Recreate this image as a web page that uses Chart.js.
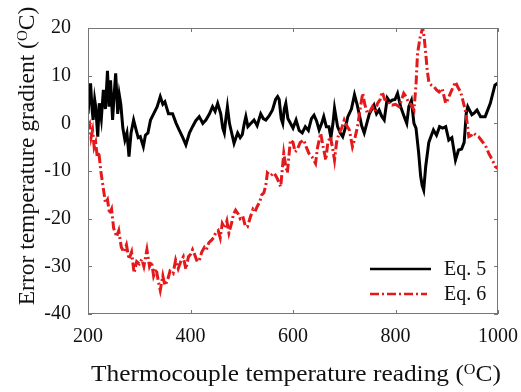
<!DOCTYPE html>
<html>
<head>
<meta charset="utf-8">
<script src="https://cdn.jsdelivr.net/npm/chart.js@4.4.0/dist/chart.umd.min.js"></script>
<style>
  html, body { margin: 0; padding: 0; background: #fff; }
  #wrap { position: relative; width: 521px; height: 392px; overflow: hidden; }
  #c { position: absolute; left: 0; top: 0; }
  .ttl { position: absolute; font-family: "Liberation Serif", "Times New Roman", serif; font-size: 23.5px;
         color: #111; white-space: nowrap; text-align: center; height: 28px; line-height: 28px; }
  .ttl sup { font-size: 15px; line-height: 0; vertical-align: 7px; }
  #xt { left: 88px; width: 416px; top: 359px; transform: scaleX(1.08); }
  #yt { left: -134px; width: 320px; top: 142px; transform: rotate(-90deg); }
</style>
</head>
<body>
<div id="wrap">
  <canvas id="c" width="521" height="392"></canvas>
  <div class="ttl" id="xt">Thermocouple temperature reading (<sup>O</sup>C)</div>
  <div class="ttl" id="yt">Error temperature gradient (<sup>O</sup>C)</div>
</div>
<script>
// Eq. 5 (black, solid)
var eq5T = [200,203,205,208,210,213,215,219,222,226,230,234,238,241,244,248,251,254,258,261,264,268,272,276,280,284,289,294,298,302,308,312,317,322,328,335,341,346,350,357,365,372,378,385,391,398,404,410,417,424,430,437,443,448,453,459,463,466,469,472,476,479,485,492,497,501,505,508,512,518,524,530,537,542,547,553,560,566,570,573,577,580,583,586,590,595,600,606,612,618,624,630,636,641,646,651,656,660,665,670,674,678,681,687,692,697,702,707,714,720,725,729,734,739,744,749,754,758,763,768,773,778,784,789,794,799,804,810,817,822,826,831,836,840,845,849,852,855,859,865,869,874,880,886,892,898,904,910,917,923,929,934,938,941,949,954,959,966,975,985,994,1000];
var eq5V = [2,6,8.4,3,0.7,5,3.5,-2.8,4.2,1,7,3,11,3.5,9,0.7,6,10.5,2,6,4,-1,-3.5,-2,-7,-2,0.7,-1.4,-3,-2.8,-4.9,-2.5,-2,0.7,2,3.5,5.6,4,4.5,2,2,0,-1.4,-3,-4.5,-2,-0.7,0.5,1.4,0,0.7,2,3.5,2.5,4.2,2,-1,-2,1,3.5,0,-1.4,-4.2,-2,-3,-2.4,0,1.4,-0.7,0,0.7,-0.5,2,1,0.7,1.5,2.8,5,5.6,5,1,0,3,4.2,1,0,-1,0.7,-1.5,-2,-0.7,-1.5,1,1.7,0.5,-1.4,0,1.4,-0.7,-0.7,-3,0,3.2,-0.7,-2,-2.8,-1,1.4,3,6,4,2,-0.5,-2,0,2,3,3.8,2,2.8,1.5,0.7,5.3,4.5,4.9,5,6.3,3.5,1.4,0,3.5,4.8,0,-1,-6,-11,-13,-14,-9,-4,-2.8,-1.4,-2.5,-0.7,-1,-0.7,-3.5,-3,-7.7,-5.6,-5.4,-4,2,3.5,1.8,2.2,2.8,1.4,1.4,4.2,8,8.5];

// Eq. 6 (red, dash-dot)
var eq6T = [200,203,206,209,212,215,218,221,225,229,234,238,242,246,250,256,260,265,270,275,280,285,290,295,300,305,309,315,320,324,328,333,337,341,346,350,355,360,366,371,376,381,386,391,396,400,404,408,413,417,422,427,431,436,441,445,449,454,458,462,467,471,475,480,484,488,493,497,502,507,511,517,522,526,530,535,539,543,547,550,556,563,569,576,582,586,589,595,600,604,608,614,621,626,631,637,644,648,654,659,664,668,673,677,681,685,690,695,700,705,710,716,721,726,731,736,740,745,750,755,760,765,770,774,779,784,788,793,800,807,812,816,821,826,830,836,840,843,848,853,856,859,862,865,870,875,880,885,891,898,902,907,912,917,922,927,931,936,940,943,948,952,957,962,967,972,977,982,988,995,1000];
var eq6V = [-0.5,0,-3,-1.5,-5,-4,-7,-6,-10,-13,-16.7,-16,-19,-18,-22,-23.8,-22.5,-26,-27,-25.5,-28.5,-27,-31.4,-29,-29.5,-28.5,-30,-26.5,-30,-29,-32,-30.5,-33,-35,-32,-34,-33,-31,-31.5,-28.7,-30.5,-29,-28,-30.6,-28,-27.5,-26.5,-27.5,-29,-28.8,-27,-26,-26.5,-25,-24.5,-24,-23,-22.5,-24,-21,-22,-20.5,-23,-21,-19,-18.2,-19,-20,-19.5,-21.6,-21.7,-19.6,-18,-18.5,-17.5,-16.5,-15,-14.6,-13,-10.4,-11,-10.4,-11.5,-13.3,-6.3,-9,-10.4,-3.5,-4,-6,-5.6,-4,-3.5,-5,-6.3,-7,-8.4,-5,-2.1,-5,-7.7,-4,-2.8,-5,-7.7,-4,-2,-1,0.7,-0.5,-1.4,-4.9,-3,-0.7,3,6.3,4,2.1,2.5,3.5,2.5,4.2,5,6.6,5,4.9,4,3.8,4,3.5,5,6.3,5.5,4.2,4,2.8,8,14.7,18,20,18,14.7,11,8.7,8,7.7,7,6.6,7.3,4.2,5,6.3,7.5,8.7,7.5,6.6,5,2.8,0,-2.8,-2.5,-2,-2.5,-2.8,-3.5,-4.2,-5,-6.3,-7.5,-9.1,-9.5];

var xTicks = [200, 400, 600, 800, 1000];
var yTicks = [-40, -30, -20, -10, 0, 10, 20];
var seriesNames = ['Eq. 5', 'Eq. 6'];

var serif = '"Liberation Serif", "Times New Roman", serif';
var red = '#e3191c';
var redDash = [9, 3, 2, 3];

function pts(t, v) {
    return t.map(function(x, i) { return {x: x, y: v[i]}; });
}

// frame, inward tick marks and the legend inside the plot
var framePlugin = {
    id: 'frame',
    afterDraw: function(chart) {
        var ctx = chart.ctx, a = chart.chartArea;
        var xs = chart.scales.x, ys = chart.scales.y;
        ctx.save();
        ctx.strokeStyle = '#767676';
        ctx.lineWidth = 1;
        ctx.strokeRect(a.left + 0.5, a.top + 0.5, a.right - a.left - 1, a.bottom - a.top - 1);
        ctx.beginPath();
        xTicks.forEach(function(v) {
            var px = Math.round(xs.getPixelForValue(v)) + 0.5;
            ctx.moveTo(px, a.bottom); ctx.lineTo(px, a.bottom - 4);
            ctx.moveTo(px, a.top); ctx.lineTo(px, a.top + 4);
        });
        yTicks.forEach(function(v) {
            var py = Math.round(ys.getPixelForValue(v)) + 0.5;
            ctx.moveTo(a.left, py); ctx.lineTo(a.left + 4, py);
            ctx.moveTo(a.right, py); ctx.lineTo(a.right - 4, py);
        });
        ctx.stroke();

        // legend
        var lx0 = a.right - 128, lx1 = a.right - 67, tx = a.right - 54;
        var ly = [a.bottom - 45, a.bottom - 20];
        ctx.lineWidth = 2.5;
        ctx.strokeStyle = '#000';
        ctx.beginPath(); ctx.moveTo(lx0, ly[0]); ctx.lineTo(lx1, ly[0]); ctx.stroke();
        ctx.strokeStyle = red;
        ctx.setLineDash(redDash);
        ctx.beginPath(); ctx.moveTo(lx0, ly[1]); ctx.lineTo(lx1 - 4, ly[1]); ctx.stroke();
        ctx.setLineDash([]);
        ctx.fillStyle = '#111';
        ctx.font = '20px ' + serif;
        ctx.textBaseline = 'middle';
        ctx.fillText(seriesNames[0], tx, ly[0] + 1);
        ctx.fillText(seriesNames[1], tx, ly[1] + 1);
        ctx.restore();
    }
};

var ctx = document.getElementById('c').getContext('2d');
var chart = new Chart(ctx, {
    type: 'line',
    data: {
        datasets: [{
            label: seriesNames[0],
            data: pts(eq5T, eq5V),
            borderColor: '#000',
            borderWidth: 3,
            pointRadius: 0,
            tension: 0,
            order: 1
        }, {
            label: seriesNames[1],
            data: pts(eq6T, eq6V),
            borderColor: red,
            borderWidth: 3,
            borderDash: redDash,
            pointRadius: 0,
            tension: 0,
            order: 0
        }]
    },
    options: {
        responsive: false,
        animation: false,
        layout: { padding: { left: 0, right: 22, top: 28, bottom: 0 } },
        plugins: { legend: { display: false }, tooltip: { enabled: false } },
        scales: {
            x: {
                type: 'linear', min: 200, max: 1000,
                afterBuildTicks: function(s) { s.ticks = xTicks.map(function(v) { return {value: v}; }); },
                afterFit: function(s) { s.height = 78; },
                ticks: { font: { family: serif, size: 20 }, color: '#111', padding: 3, maxRotation: 0,
                         callback: function(v) { return String(v); } },
                grid: { display: false }, border: { display: false }
            },
            y: {
                min: -40, max: 20,
                afterBuildTicks: function(s) { s.ticks = yTicks.map(function(v) { return {value: v}; }); },
                afterFit: function(s) { s.width = 88; },
                ticks: { font: { family: serif, size: 20 }, color: '#111', padding: 9,
                         callback: function(v) { return String(v); } },
                grid: { display: false }, border: { display: false }
            }
        }
    },
    plugins: [framePlugin]
});
</script>
</body>
</html>
